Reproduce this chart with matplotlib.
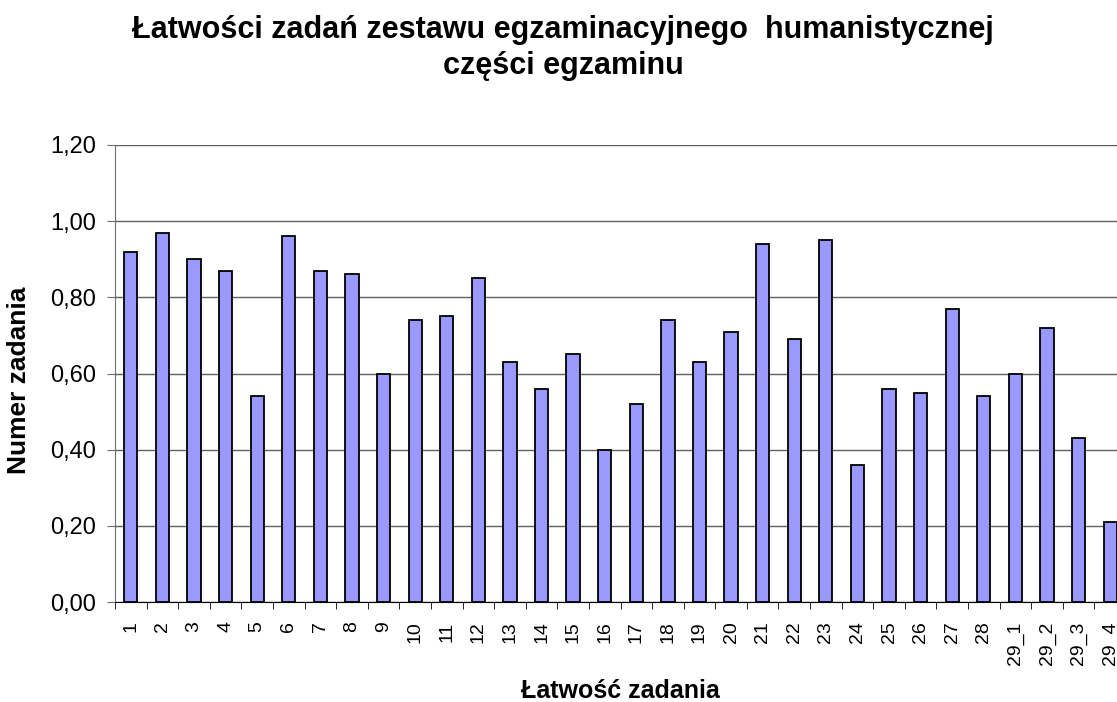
import matplotlib
matplotlib.use("Agg")
import matplotlib.pyplot as plt
import numpy as np
from matplotlib.ticker import FixedLocator, FuncFormatter

plt.rcParams['font.family'] = ['Liberation Sans', 'DejaVu Sans']

# --- DATA ---
zadania = ["1", "2", "3", "4", "5", "6", "7", "8", "9", "10", "11", "12", "13", "14",
           "15", "16", "17", "18", "19", "20", "21", "22", "23", "24", "25", "26", "27",
           "28", "29_1", "29_2", "29_3", "29_4"]
latwosc = [0.92, 0.97, 0.90, 0.87, 0.54, 0.96, 0.87, 0.86, 0.60, 0.74, 0.75, 0.85, 0.63, 0.56,
           0.65, 0.40, 0.52, 0.74, 0.63, 0.71, 0.94, 0.69, 0.95, 0.36, 0.56, 0.55, 0.77,
           0.54, 0.60, 0.72, 0.43, 0.21]
y_ticks = [0.0, 0.2, 0.4, 0.6, 0.8, 1.0, 1.2]

W, H = 1117, 702
fig = plt.figure(figsize=(W / 100, H / 100), dpi=100)
# plot area runs slightly past the right edge, as in the original
ax = fig.add_axes([115 / W, 1 - 602 / H, (1126 - 115) / W, (602 - 145) / H])

x = np.arange(len(zadania))
ax.bar(x, latwosc, width=0.42, color="#9999FF", edgecolor="black", linewidth=1.3, zorder=3)

ax.set_xlim(-0.5, len(zadania) - 0.5)
ax.set_ylim(0, 1.2)

# grid + axes
ax.set_yticks(y_ticks)
ax.yaxis.set_major_formatter(FuncFormatter(lambda v, p: f"{v:.2f}".replace(".", ",")))
ax.yaxis.grid(True, color="#606060", linewidth=1, zorder=0)
for s in ["top", "right"]:
    ax.spines[s].set_visible(False)
ax.spines["left"].set_color("#707070")
ax.spines["bottom"].set_color("black")
ax.tick_params(axis="y", length=6, color="#707070", labelsize=17, pad=7.5)

# x ticks: labels at centres, tick marks between categories
ax.set_xticks(x)
ax.set_xticklabels(zadania, rotation=90, fontsize=14)
ax.tick_params(axis="x", which="major", length=0, pad=14)
ax.xaxis.set_minor_locator(FixedLocator(np.arange(len(zadania) + 1) - 0.5))
ax.tick_params(axis="x", which="minor", length=5, color="black")

fig.text(19 / W, 1 - 380 / H, "Numer zadania", rotation=90, ha="center", va="center",
         fontsize=19, fontweight="bold")
fig.text(620 / W, 1 - 698 / H, "Łatwość zadania", ha="center", va="baseline",
         fontsize=18, fontweight="bold")

fig.text(563 / W, 1 - 38 / H, "Łatwości zadań zestawu egzaminacyjnego  humanistycznej",
         ha="center", va="baseline", fontsize=22, fontweight="bold")
fig.text(563 / W, 1 - 74 / H, "części egzaminu",
         ha="center", va="baseline", fontsize=22, fontweight="bold")

fig.savefig("out.png", dpi=100)
